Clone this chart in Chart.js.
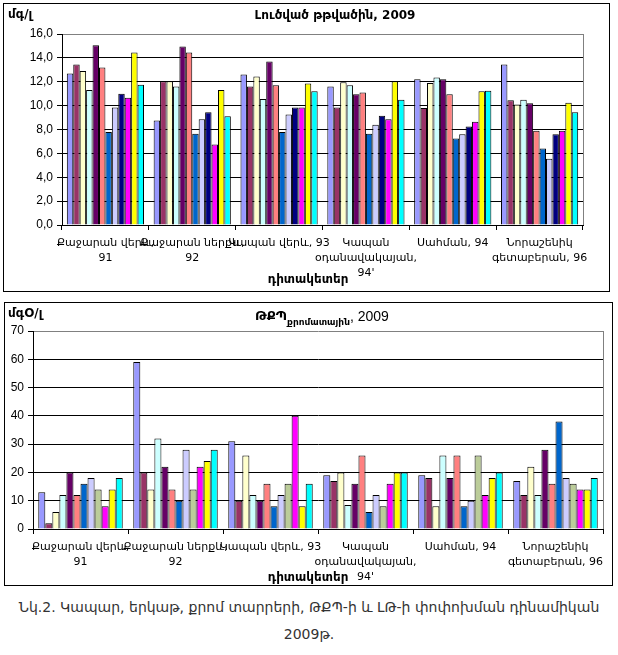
<!DOCTYPE html>
<html><head><meta charset="utf-8">
<script src="https://cdn.jsdelivr.net/npm/chart.js@4/dist/chart.umd.min.js"></script>
<style>
html,body{margin:0;padding:0;background:#fff;width:618px;height:655px;overflow:hidden;position:relative;font-family:"DejaVu Sans",sans-serif}
.box{position:absolute;border:1px solid #000;background:#fff}
.box canvas{position:absolute;left:0;top:0}
#cap{position:absolute;left:0;width:618px;text-align:center;font-size:14px;color:#333;line-height:27px;top:594px}
</style></head><body>
<div class="box" id="b1" style="left:3px;top:3px;width:605px;height:287px"><canvas id="c1" width="605" height="287"></canvas></div>
<div class="box" id="b2" style="left:4px;top:302px;width:607px;height:282px"><canvas id="c2" width="607" height="282"></canvas></div>
<div id="cap">Նկ.2. Կապար, երկաթ, քրոմ տարրերի, ԹՔՊ-ի և ԼԹ-ի փոփոխման դինամիկան<br>2009թ.</div>
<script>
// ---- data ----
const categories = [
  ["Քաջարան վերև,", "91"],
  ["Քաջարան ներքև,", "92"],
  ["Կապան վերև, 93"],
  ["Կապան", "օդանավակայան,", "94'"],
  ["Սահման, 94"],
  ["Նորաշենիկ", "գետաբերան, 96"]
];
// Dissolved oxygen (mg/l), 12 series
const do1  = [12.7, 8.75, 12.6, 11.6, 12.2, 13.45];
const do2  = [13.45, 12.05, 11.6, 9.85, 9.8, 10.45];
const do3  = [12.9, 12.05, 12.45, 11.95, 11.9, 10.1];
const do4  = [11.3, 11.6, 10.55, 11.7, 12.35, 10.5];
const do5  = [15.05, 14.95, 13.7, 10.95, 12.2, 10.2];
const do6  = [13.2, 14.45, 11.7, 11.1, 10.95, 7.9];
const do7  = [7.8, 7.65, 7.8, 7.65, 7.25, 6.4];
const do8  = [9.85, 8.85, 9.25, 8.4, 7.6, 5.55];
const do9  = [11.0, 9.45, 9.85, 9.15, 8.25, 7.6];
const do10 = [10.65, 6.75, 9.85, 8.85, 8.65, 7.9];
const do11 = [14.45, 11.3, 11.85, 12.05, 11.2, 10.25];
const do12 = [11.75, 9.1, 11.2, 10.5, 11.25, 9.45];
const doColors = ["#9999FF","#993366","#FFFFCC","#CCFFFF","#660066","#FF8080","#0066CC","#CCCCFF","#000080","#FF00FF","#FFFF00","#00FFFF"];
// COD chromate (mgO/l), 12 series
const cod1  = [13, 59, 31, 19, 19, 17];
const cod2  = [2, 20, 10, 17, 18, 12];
const cod3  = [6, 14, 26, 20, 8, 22];
const cod4  = [12, 32, 12, 8.5, 26, 12];
const cod5  = [20, 22, 10, 16, 18, 28];
const cod6  = [12, 14, 16, 26, 26, 16];
const cod7  = [16, 10, 8, 6, 8, 38];
const cod8  = [18, 28, 12, 12, 10, 18];
const cod9  = [14, 14, 16, 8, 26, 16];
const cod10 = [8, 22, 40, 16, 12, 14];
const cod11 = [14, 24, 8, 20, 18, 14];
const cod12 = [18, 28, 16, 20, 20, 18];
const codColors = ["#9999FF","#993366","#FFFFCC","#CCFFFF","#660066","#FF8080","#0066CC","#CCCCFF","#BBCC99","#FF00FF","#FFFF00","#00FFFF"];
const seriesNames = ["1","2","3","4","5","6","7","8","9","10","11","12"];
const doTicks = {min:0, max:16, step:2};
const codTicks = {min:0, max:70, step:10};
// --------------

Chart.defaults.font.family = "'Liberation Sans','DejaVu Sans',sans-serif";
Chart.defaults.color = "#000";

function mkSets(arrs, colors){
  return arrs.map((d,i)=>({label:seriesNames[i], data:d, backgroundColor:colors[i], borderColor:"#000", borderWidth:1,
    categoryPercentage:0.889, barPercentage:1.0}));
}

function textPlugin(cfg){
  return {id:'txt', afterDraw(chart){
    const c = chart.ctx, a = chart.chartArea;
    c.save();
    c.strokeStyle = "#808080"; c.lineWidth = 1;
    c.beginPath(); c.moveTo(Math.round(a.right)+0.5, a.top); c.lineTo(Math.round(a.right)+0.5, a.bottom); c.stroke();
    c.fillStyle = "#000"; c.textBaseline = "middle";
    cfg(c, chart);
    c.restore();
  }};
}

function opts(t, yW, xH, pad, fmt, yFontSize){
  return {
    responsive:false, animation:false, devicePixelRatio:1,
    layout:{padding:pad},
    plugins:{legend:{display:false}, tooltip:{enabled:false}, title:{display:false}},
    scales:{
      x:{
        grid:{drawOnChartArea:false, drawTicks:true, tickLength:5, color:"#000", offset:true},
        border:{color:"#000", width:1},
        ticks:{font:{size:11, family:"'DejaVu Sans',sans-serif", lineHeight:"15px"}, maxRotation:0, minRotation:0, autoSkip:false, padding:6, color:"#000"},
        afterFit(s){ s.height = xH; }
      },
      y:{
        min:t.min, max:t.max,
        ticks:{stepSize:t.step, callback:fmt, font:{size:yFontSize}, padding:4, color:"#000"},
        grid:{color:(ctx)=> ctx.tick && ctx.tick.value === t.max ? "#808080" : "#000", tickColor:"#000", tickLength:5, drawTicks:true},
        border:{color:"#000", width:1},
        afterFit(s){ s.width = yW; }
      }
    }
  };
}

new Chart(document.getElementById('c1'), {
  type:'bar',
  data:{labels:categories, datasets:mkSets([do1,do2,do3,do4,do5,do6,do7,do8,do9,do10,do11,do12], doColors)},
  options:opts(doTicks, 58, 66, {top:30, right:26, left:0, bottom:0}, v=>v.toFixed(1).replace('.',','), 12),
  plugins:[textPlugin((c,chart)=>{
    c.font = "bold 12px 'DejaVu Sans',sans-serif"; c.textAlign = "left";
    c.fillText("մգ/լ", 4, 11);
    c.textAlign = "center";
    c.fillText("Լուծված թթվածին, 2009", 331, 12);
    c.fillText("դիտակետեր", 304, 276);
  })]
});

new Chart(document.getElementById('c2'), {
  type:'bar',
  data:{labels:categories, datasets:mkSets([cod1,cod2,cod3,cod4,cod5,cod6,cod7,cod8,cod9,cod10,cod11,cod12], codColors)},
  options:opts(codTicks, 28, 56, {top:28, right:9, left:0, bottom:0}, v=>String(v), 12),
  plugins:[textPlugin((c,chart)=>{
    c.font = "bold 12px 'DejaVu Sans',sans-serif"; c.textAlign = "left";
    c.fillText("մգO/լ", 3, 11);
    let x = 250;
    c.font = "bold 13px 'DejaVu Sans',sans-serif";
    c.fillText("ԹՔՊ", x, 14); x += c.measureText("ԹՔՊ").width;
    c.font = "bold 9px 'DejaVu Sans',sans-serif";
    c.fillText("քրոմատային", x, 20); x += c.measureText("քրոմատային").width;
    c.font = "14px 'Liberation Sans',sans-serif";
    c.fillText(", 2009", x, 14);
    c.font = "bold 12px 'DejaVu Sans',sans-serif"; c.textAlign = "center";
    c.fillText("դիտակետեր", 303, 275);
  })]
});
</script>
</body></html>
